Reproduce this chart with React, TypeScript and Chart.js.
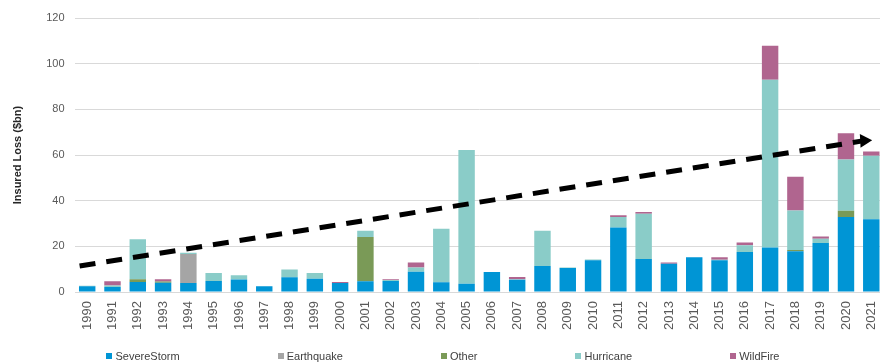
import React, { useEffect, useRef } from "react";
import { Chart, registerables } from "chart.js";

Chart.register(...registerables);

const years = [
  "1990", "1991", "1992", "1993", "1994", "1995", "1996", "1997", "1998", "1999",
  "2000", "2001", "2002", "2003", "2004", "2005", "2006", "2007", "2008", "2009",
  "2010", "2011", "2012", "2013", "2014", "2015", "2016", "2017", "2018", "2019",
  "2020", "2021",
];

// Insured loss by peril, $bn
const severeStorm = [
  2.6, 2.2, 4.4, 4.1, 4.0, 4.9, 5.5, 2.5, 6.5, 5.8,
  4.0, 4.7, 4.9, 8.9, 4.3, 3.7, 8.8, 5.4, 11.4, 10.5,
  13.9, 28.3, 14.5, 12.4, 15.2, 13.9, 17.6, 19.5, 17.9, 21.5,
  32.9, 31.9,
];
const earthquake = [
  0, 0, 0, 0, 12.7, 0, 0, 0, 0, 0,
  0, 0, 0, 0, 0, 0, 0, 0, 0, 0,
  0, 0, 0, 0, 0, 0, 0, 0, 0, 0,
  0, 0,
];
const other = [
  0, 0, 1.2, 0.5, 0, 0, 0, 0, 0, 0,
  0, 19.4, 0, 0, 0, 0, 0, 0, 0, 0,
  0, 0, 0, 0, 0, 0, 0, 0, 0.5, 0,
  2.7, 0,
];
const hurricane = [
  0.2, 0.7, 17.5, 0, 0.5, 3.5, 1.9, 0.1, 3.4, 2.6,
  0, 2.7, 0.4, 1.9, 23.4, 58.5, 0, 0.2, 15.5, 0.3,
  0.4, 4.6, 19.8, 0, 0, 0.3, 2.9, 73.5, 17.3, 1.8,
  22.5, 27.8,
];
const wildFire = [
  0, 1.8, 0, 1.0, 0, 0, 0, 0, 0, 0,
  0.4, 0, 0.3, 2.2, 0, 0, 0, 1.0, 0, 0,
  0, 0.7, 0.8, 0.5, 0, 1.0, 1.2, 14.9, 14.8, 1.0,
  11.4, 1.8,
];

const perils = ["SevereStorm", "Earthquake", "Other", "Hurricane", "WildFire"];
const perilColors = ["#0095D5", "#A5A5A5", "#7A9A57", "#8ACCC8", "#B0658F"];
const perilValues = [severeStorm, earthquake, other, hurricane, wildFire];

// Trend arrow: positions in category-index units and $bn
const trendX = [-0.3, 30.72];
const trendY = [11.4, 66.3];

const yTicks = [0, 20, 40, 60, 80, 100, 120];

const FONT = "'Liberation Sans', Arial, Helvetica, sans-serif";

export default function App() {
  const canvasRef = useRef<HTMLCanvasElement | null>(null);

  useEffect(() => {
    if (!canvasRef.current) return;
    Chart.defaults.font.family = FONT;

    const bars = perils.map((label, i) => ({
      type: "bar" as const,
      label,
      data: perilValues[i],
      backgroundColor: perilColors[i],
      stack: "loss",
      grouped: false,
      borderWidth: 0,
      categoryPercentage: 1,
      barPercentage: 0.65,
      order: 1,
    }));

    const chart = new Chart(canvasRef.current, {
      type: "bar",
      data: {
        labels: years,
        datasets: [
          ...bars,
          {
            type: "line",
            label: "Trend",
            data: trendX.map((x, i) => ({ x, y: trendY[i] })),
            xAxisID: "xTrend",
            borderColor: "#000000",
            backgroundColor: "#000000",
            borderWidth: 5,
            borderDash: [16, 11],
            borderCapStyle: "butt",
            pointStyle: "triangle",
            pointRadius: [0, 8],
            pointRotation: [0, 87],
            pointBorderWidth: 0,
            pointBackgroundColor: "#000000",
            order: 0,
          } as any,
        ],
      },
      options: {
        animation: false,
        responsive: false,
        maintainAspectRatio: false,
        layout: { padding: { top: 18, right: 0, left: 11, bottom: 23 } },
        plugins: {
          tooltip: { enabled: false },
          legend: { display: false },
        },
        scales: {
          x: {
            stacked: true,
            offset: true,
            grid: { display: false, drawTicks: false },
            border: { display: false },
            ticks: {
              minRotation: 90,
              maxRotation: 90,
              autoSkip: false,
              padding: 9,
              color: "#595959",
              font: { size: 13, family: FONT },
            },
          },
          xTrend: {
            type: "linear",
            display: false,
            offset: false,
            min: -0.5,
            max: years.length - 0.5,
          },
          y: {
            stacked: true,
            min: 0,
            max: 120,
            afterBuildTicks: (axis) => {
              axis.ticks = yTicks.map((v) => ({ value: v }));
            },
            grid: {
              color: "#D9D9D9",
              lineWidth: 1,
              drawTicks: false,
            },
            border: { display: false },
            ticks: {
              padding: 10,
              color: "#595959",
              font: { size: 11, family: FONT },
            },
            title: {
              display: true,
              text: "Insured Loss ($bn)",
              color: "#262626",
              font: { size: 11, weight: "bold", family: FONT },
              padding: { top: 0, bottom: 12 },
            },
          },
        },
      },
    });

    return () => chart.destroy();
  }, []);

  return (
    <div
      style={{
        position: "absolute",
        left: 0,
        top: 0,
        width: 880,
        height: 362,
        overflow: "hidden",
        background: "#ffffff",
      }}
    >
      <canvas ref={canvasRef} width={896} height={362} style={{ display: "block" }} />
      <div
        style={{
          position: "absolute",
          left: 6,
          top: 349,
          width: 874,
          display: "flex",
          justifyContent: "center",
          gap: 98,
          fontFamily: FONT,
          fontSize: 11,
          lineHeight: "14px",
          color: "#404040",
        }}
      >
        {perils.map((p, i) => (
          <span key={p} style={{ display: "flex", alignItems: "center" }}>
            <span
              style={{
                display: "inline-block",
                width: 6,
                height: 6,
                background: perilColors[i],
                marginRight: 3,
              }}
            />
            {p}
          </span>
        ))}
      </div>
    </div>
  );
}
